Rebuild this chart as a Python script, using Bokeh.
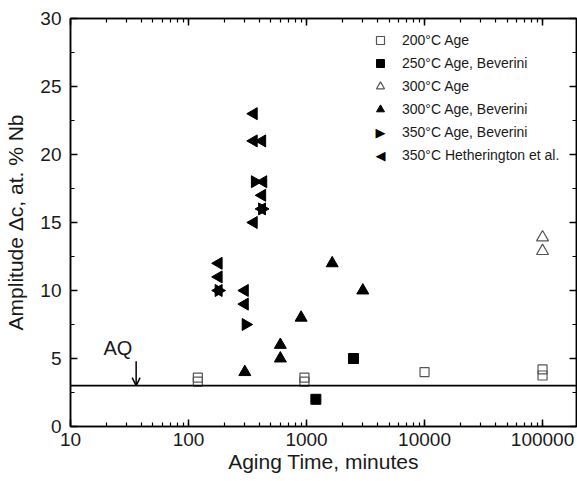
import math
from bokeh.plotting import figure
from bokeh.models import (Range1d, LogAxis, LinearAxis, Span, Arrow, OpenHead, Label,
                          Legend, LegendItem, SingleIntervalTicker, LogTicker)
from bokeh.embed import file_html
from bokeh.resources import INLINE

# ---- data ----
sq200_x = [120, 120, 960, 960, 10000, 100000, 100000]
sq200_y = [3.3, 3.6, 3.3, 3.6, 4.0, 3.75, 4.2]

sq250_bev_x = [1200, 2500]
sq250_bev_y = [2.0, 5.0]

tri300_x = [100000, 100000]
tri300_y = [13.9, 12.9]

tri300_bev_x = [300, 600, 600, 900, 1650, 3000]
tri300_bev_y = [4.0, 5.0, 6.0, 8.0, 12.0, 10.0]

right350_bev_x = [180, 305, 365, 420]
right350_bev_y = [10.0, 7.5, 18.0, 16.0]

left350_heth_x = [180, 180, 180, 300, 300, 357, 357, 421, 430, 421, 420, 357]
left350_heth_y = [12.0, 11.0, 10.0, 10.0, 9.0, 23.0, 21.0, 21.0, 18.0, 17.0, 16.0, 15.0]

aq_level = 3.0
aq_arrow_x = 36
aq_arrow_top = 4.8
aq_label_x = 19
aq_label_y = 4.95

x_ticks = [10, 100, 1000, 10000, 100000]
labels = ["200°C Age", "250°C Age, Beverini", "300°C Age", "300°C Age, Beverini",
          "350°C Age, Beverini", "350°C Hetherington et al."]

FONT = "Liberation Sans"
TXT = "#1a1a1a"

p = figure(width=577, height=481, x_axis_type="log",
           x_range=Range1d(10, 194000), y_range=Range1d(0, 30),
           output_backend="svg", toolbar_location=None,
           min_border_left=70, min_border_right=1, min_border_top=18, min_border_bottom=55)
p.xgrid.visible = False
p.ygrid.visible = False
p.outline_line_color = "black"
p.outline_line_width = 1.5
p.background_fill_color = "white"
p.border_fill_color = "white"

def style_axis(ax, show_labels):
    ax.axis_line_width = 1.5
    ax.axis_line_color = "black"
    ax.major_tick_in = 7
    ax.major_tick_out = 0
    ax.minor_tick_in = 4
    ax.minor_tick_out = 0
    ax.major_tick_line_width = 1.5
    ax.minor_tick_line_width = 1.2
    if show_labels:
        ax.major_label_text_font = FONT
        ax.major_label_text_font_size = "19px"
        ax.major_label_text_color = TXT
        ax.axis_label_text_font = FONT
        ax.axis_label_text_font_size = "21px"
        ax.axis_label_text_font_style = "normal"
        ax.axis_label_text_color = TXT
    else:
        ax.major_label_text_font_size = "1px"
        ax.major_label_text_color = None
        ax.major_label_standoff = 0

xb = p.xaxis[0]
xb.ticker = LogTicker(desired_num_ticks=5, num_minor_ticks=10)
xb.major_label_overrides = {t: str(t) for t in x_ticks}
xb.axis_label = "Aging Time, minutes"
xb.major_label_standoff = 6
xb.axis_label_standoff = 1
style_axis(xb, True)

yl = p.yaxis[0]
yl.ticker = SingleIntervalTicker(interval=5, num_minor_ticks=2)
yl.axis_label = "Amplitude \u0394c, at. % Nb"
yl.major_label_standoff = 9
yl.axis_label_standoff = 10
style_axis(yl, True)

xt = LogAxis(ticker=LogTicker(desired_num_ticks=5, num_minor_ticks=10))
style_axis(xt, False)
p.add_layout(xt, "above")
yr = LinearAxis(ticker=SingleIntervalTicker(interval=5, num_minor_ticks=2))
style_axis(yr, False)
p.add_layout(yr, "right")

# AQ line and arrow
p.add_layout(Span(location=aq_level, dimension="width", line_color="black", line_width=1.8))
p.add_layout(Arrow(end=OpenHead(size=8, line_width=1.5, line_color="black"),
                   x_start=aq_arrow_x, y_start=aq_arrow_top, x_end=aq_arrow_x, y_end=aq_level,
                   line_width=1.5, line_color="black"))
p.add_layout(Label(x=aq_label_x, y=aq_label_y, text="AQ", text_font=FONT,
                   text_font_size="20px", text_color=TXT))

GRAY = "#555555"
r1 = p.scatter(sq200_x, sq200_y, marker="square", size=9, fill_color=None,
               line_color=GRAY, line_width=1.2)
r2 = p.scatter(sq250_bev_x, sq250_bev_y, marker="square", size=10, fill_color="black",
               line_color="black")
r3 = p.scatter(tri300_x, tri300_y, marker="triangle", size=12, fill_color=None,
               line_color=GRAY, line_width=1.2)
r4 = p.scatter(tri300_bev_x, tri300_bev_y, marker="triangle", size=12, fill_color="black",
               line_color="black")
r5 = p.scatter(right350_bev_x, right350_bev_y, marker="triangle", size=12, angle=-math.pi / 2,
               fill_color="black", line_color="black")
r6 = p.scatter(left350_heth_x, left350_heth_y, marker="triangle", size=12, angle=math.pi / 2,
               fill_color="black", line_color="black")

# legend entries for the rotated markers: blank glyph slot, arrow-shaped glyph drawn as text
r5_leg = p.scatter([], [], marker="square", size=1, fill_alpha=0, line_alpha=0)
r6_leg = p.scatter([], [], marker="square", size=1, fill_alpha=0, line_alpha=0)

legend = Legend(items=[LegendItem(label=l, renderers=[r]) for l, r in
                       zip(labels, [r1, r2, r3, r4, r5_leg, r6_leg])],
                location=(300, 261))
legend.border_line_color = None
legend.background_fill_alpha = 0
legend.glyph_width = 20
legend.glyph_height = 20
legend.spacing = 3
legend.label_standoff = 12
legend.padding = 0
legend.margin = 0
legend.label_text_font = FONT
legend.label_text_font_size = "14px"
legend.label_text_color = TXT
p.add_layout(legend)

for sym, row in (("\u25B6", 4), ("\u25C0", 5)):
    p.add_layout(Label(x=310, y=261 + 135 - 10 - row * 23, x_units="screen", y_units="screen",
                       text=sym, text_font="DejaVu Sans", text_font_size="13px",
                       text_align="center", text_baseline="middle", text_color="black"))

open("out.html", "w").write(file_html(p, INLINE))
